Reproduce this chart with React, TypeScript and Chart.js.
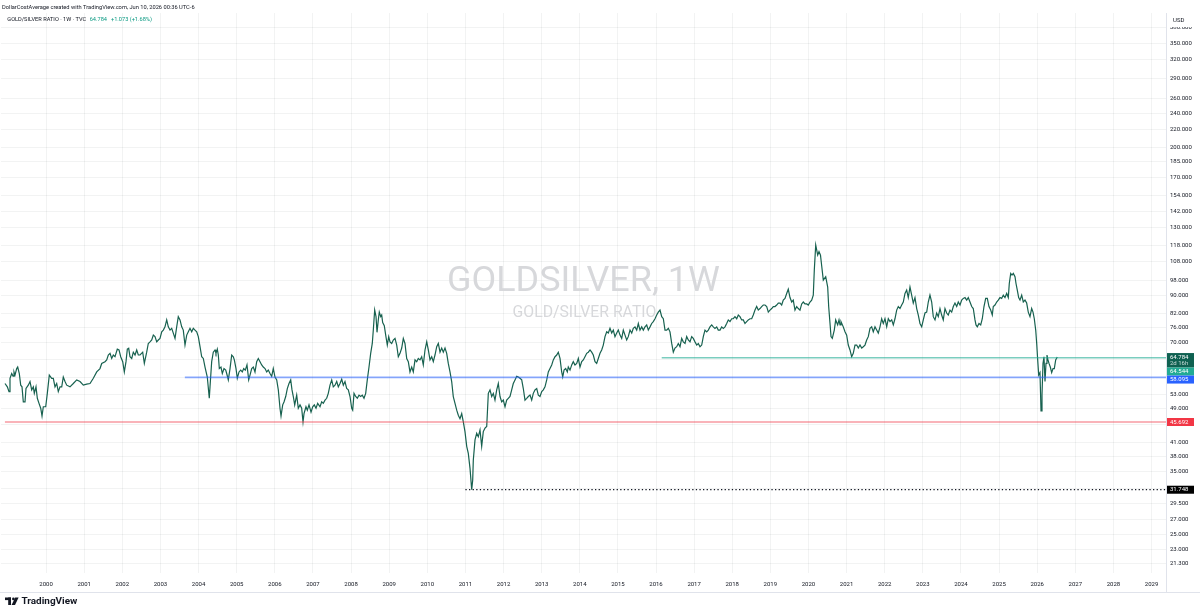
import React, { useEffect, useRef } from "react";
import { Chart, registerables } from "chart.js";

Chart.register(...registerables);

const DATES: number[] = [
  1998.922, 1998.983, 1999.027, 1999.053, 1999.098, 1999.132, 1999.158, 1999.184, 1999.229, 1999.255,
  1999.297, 1999.334, 1999.368, 1999.402, 1999.447, 1999.473, 1999.533, 1999.578, 1999.623, 1999.665,
  1999.691, 1999.735, 1999.770, 1999.814, 1999.859, 1999.893, 1999.927, 1999.990, 2000.032, 2000.084,
  2000.147, 2000.189, 2000.234, 2000.278, 2000.320, 2000.365, 2000.410, 2000.451, 2000.496, 2000.541,
  2000.627, 2000.714, 2000.803, 2000.890, 2000.976, 2001.065, 2001.152, 2001.239, 2001.328, 2001.414,
  2001.459, 2001.546, 2001.590, 2001.632, 2001.677, 2001.721, 2001.763, 2001.808, 2001.868, 2001.913,
  2001.957, 2002.010, 2002.052, 2002.096, 2002.131, 2002.167, 2002.201, 2002.246, 2002.288, 2002.333,
  2002.377, 2002.419, 2002.464, 2002.534, 2002.577, 2002.639, 2002.681, 2002.726, 2002.771, 2002.813,
  2002.857, 2002.902, 2002.944, 2002.988, 2003.033, 2003.075, 2003.119, 2003.164, 2003.206, 2003.251,
  2003.295, 2003.337, 2003.382, 2003.426, 2003.468, 2003.513, 2003.558, 2003.599, 2003.644, 2003.689,
  2003.731, 2003.775, 2003.820, 2003.862, 2003.906, 2003.951, 2003.993, 2004.038, 2004.082, 2004.124,
  2004.169, 2004.229, 2004.281, 2004.300, 2004.344, 2004.386, 2004.431, 2004.457, 2004.491, 2004.518,
  2004.544, 2004.588, 2004.623, 2004.667, 2004.712, 2004.738, 2004.780, 2004.825, 2004.869, 2004.911,
  2004.938, 2004.982, 2005.016, 2005.061, 2005.105, 2005.147, 2005.184, 2005.226, 2005.270, 2005.315,
  2005.349, 2005.394, 2005.436, 2005.480, 2005.525, 2005.567, 2005.612, 2005.656, 2005.698, 2005.743,
  2005.787, 2005.829, 2005.874, 2005.918, 2005.960, 2006.005, 2006.050, 2006.092, 2006.136, 2006.163,
  2006.207, 2006.241, 2006.286, 2006.328, 2006.372, 2006.417, 2006.451, 2006.485, 2006.522, 2006.574,
  2006.616, 2006.661, 2006.705, 2006.740, 2006.766, 2006.818, 2006.853, 2006.897, 2006.950, 2006.994,
  2007.036, 2007.081, 2007.125, 2007.186, 2007.230, 2007.272, 2007.317, 2007.361, 2007.403, 2007.448,
  2007.493, 2007.534, 2007.579, 2007.624, 2007.666, 2007.710, 2007.755, 2007.797, 2007.841, 2007.886,
  2007.928, 2007.973, 2008.017, 2008.043, 2008.078, 2008.122, 2008.164, 2008.209, 2008.253, 2008.295,
  2008.340, 2008.384, 2008.426, 2008.471, 2008.515, 2008.557, 2008.584, 2008.620, 2008.655, 2008.681,
  2008.715, 2008.741, 2008.778, 2008.804, 2008.830, 2008.872, 2008.909, 2008.951, 2008.988, 2009.022,
  2009.066, 2009.108, 2009.153, 2009.198, 2009.240, 2009.284, 2009.329, 2009.371, 2009.415, 2009.460,
  2009.502, 2009.546, 2009.591, 2009.633, 2009.678, 2009.722, 2009.764, 2009.809, 2009.853, 2009.895,
  2009.940, 2009.985, 2010.027, 2010.071, 2010.116, 2010.158, 2010.202, 2010.247, 2010.289, 2010.334,
  2010.378, 2010.420, 2010.465, 2010.509, 2010.551, 2010.596, 2010.640, 2010.682, 2010.727, 2010.772,
  2010.814, 2010.858, 2010.903, 2010.945, 2010.989, 2011.034, 2011.076, 2011.121, 2011.165, 2011.191,
  2011.207, 2011.252, 2011.296, 2011.338, 2011.383, 2011.427, 2011.469, 2011.514, 2011.559, 2011.601,
  2011.645, 2011.690, 2011.732, 2011.776, 2011.821, 2011.863, 2011.908, 2011.952, 2011.994, 2012.039,
  2012.083, 2012.125, 2012.170, 2012.214, 2012.256, 2012.301, 2012.346, 2012.388, 2012.432, 2012.477,
  2012.519, 2012.563, 2012.608, 2012.650, 2012.695, 2012.739, 2012.781, 2012.826, 2012.871, 2012.913,
  2012.957, 2013.002, 2013.044, 2013.088, 2013.133, 2013.175, 2013.219, 2013.264, 2013.306, 2013.351,
  2013.395, 2013.437, 2013.482, 2013.526, 2013.553, 2013.587, 2013.631, 2013.673, 2013.699, 2013.744,
  2013.789, 2013.830, 2013.875, 2013.920, 2013.962, 2014.006, 2014.051, 2014.093, 2014.137, 2014.182,
  2014.224, 2014.269, 2014.313, 2014.355, 2014.400, 2014.444, 2014.486, 2014.531, 2014.575, 2014.617,
  2014.662, 2014.707, 2014.749, 2014.793, 2014.838, 2014.880, 2014.924, 2014.969, 2015.011, 2015.056,
  2015.100, 2015.142, 2015.187, 2015.231, 2015.273, 2015.318, 2015.363, 2015.404, 2015.449, 2015.494,
  2015.536, 2015.580, 2015.625, 2015.667, 2015.711, 2015.756, 2015.798, 2015.843, 2015.887, 2015.929,
  2015.974, 2016.018, 2016.060, 2016.105, 2016.150, 2016.192, 2016.236, 2016.281, 2016.323, 2016.367,
  2016.412, 2016.454, 2016.498, 2016.543, 2016.585, 2016.630, 2016.674, 2016.716, 2016.761, 2016.805,
  2016.847, 2016.892, 2016.936, 2016.978, 2017.023, 2017.068, 2017.110, 2017.154, 2017.199, 2017.241,
  2017.285, 2017.330, 2017.372, 2017.416, 2017.461, 2017.503, 2017.547, 2017.592, 2017.634, 2017.679,
  2017.723, 2017.765, 2017.810, 2017.854, 2017.896, 2017.941, 2017.986, 2018.027, 2018.072, 2018.117,
  2018.159, 2018.203, 2018.248, 2018.290, 2018.334, 2018.379, 2018.421, 2018.466, 2018.510, 2018.552,
  2018.597, 2018.641, 2018.683, 2018.728, 2018.772, 2018.814, 2018.859, 2018.904, 2018.946, 2018.990,
  2019.035, 2019.077, 2019.121, 2019.166, 2019.208, 2019.253, 2019.297, 2019.339, 2019.384, 2019.428,
  2019.470, 2019.515, 2019.560, 2019.601, 2019.646, 2019.691, 2019.733, 2019.777, 2019.822, 2019.864,
  2019.908, 2019.953, 2019.995, 2020.040, 2020.084, 2020.126, 2020.153, 2020.190, 2020.242, 2020.276,
  2020.315, 2020.347, 2020.389, 2020.452, 2020.504, 2020.530, 2020.565, 2020.591, 2020.625, 2020.677,
  2020.714, 2020.766, 2020.801, 2020.827, 2020.853, 2020.913, 2020.958, 2021.002, 2021.044, 2021.089,
  2021.133, 2021.175, 2021.220, 2021.265, 2021.307, 2021.351, 2021.396, 2021.438, 2021.482, 2021.527,
  2021.569, 2021.614, 2021.658, 2021.700, 2021.745, 2021.789, 2021.831, 2021.876, 2021.920, 2021.962,
  2022.007, 2022.052, 2022.094, 2022.138, 2022.183, 2022.225, 2022.269, 2022.314, 2022.356, 2022.401,
  2022.445, 2022.487, 2022.532, 2022.576, 2022.618, 2022.663, 2022.707, 2022.749, 2022.794, 2022.839,
  2022.881, 2022.925, 2022.970, 2023.012, 2023.056, 2023.101, 2023.143, 2023.187, 2023.232, 2023.274,
  2023.319, 2023.363, 2023.405, 2023.450, 2023.494, 2023.536, 2023.581, 2023.625, 2023.667, 2023.712,
  2023.757, 2023.799, 2023.843, 2023.888, 2023.930, 2023.975, 2024.019, 2024.061, 2024.106, 2024.150,
  2024.192, 2024.237, 2024.282, 2024.323, 2024.368, 2024.395, 2024.429, 2024.473, 2024.518, 2024.560,
  2024.604, 2024.649, 2024.691, 2024.735, 2024.780, 2024.822, 2024.848, 2024.893, 2024.937, 2024.979,
  2025.024, 2025.068, 2025.110, 2025.155, 2025.200, 2025.242, 2025.268, 2025.305, 2025.339, 2025.373,
  2025.418, 2025.444, 2025.478, 2025.514, 2025.549, 2025.593, 2025.635, 2025.680, 2025.724, 2025.766,
  2025.811, 2025.855, 2025.890, 2025.924, 2025.961, 2025.987, 2026.013, 2026.039, 2026.073, 2026.100,
  2026.126, 2026.152, 2026.178, 2026.205, 2026.231, 2026.257, 2026.283, 2026.310, 2026.344, 2026.380,
  2026.415, 2026.449, 2026.485, 2026.527,
];

const RATIOS: number[] = [
  56.2, 55.2, 53.8, 57.8, 59.3, 58.5, 59.8, 58.8, 60.9, 61.4,
  59.3, 55.7, 55.2, 50.9, 50.9, 54.7, 55.7, 56.8, 54.3, 55.2,
  53.3, 55.2, 51.9, 50.5, 49.2, 47.2, 49.6, 49.6, 53.3, 58.8,
  57.8, 57.8, 55.2, 56.2, 53.8, 55.2, 55.2, 58.2, 56.8, 55.7,
  55.2, 56.2, 57.3, 56.8, 55.7, 56.0, 56.2, 57.8, 59.8, 60.9,
  62.6, 63.2, 63.8, 65.5, 66.1, 64.3, 65.5, 64.9, 67.6, 67.3,
  64.9, 63.2, 59.8, 63.2, 67.6, 67.9, 64.9, 64.3, 66.5, 65.5,
  67.3, 65.5, 65.5, 66.5, 62.6, 66.5, 69.7, 70.3, 71.0, 72.9,
  72.3, 70.3, 71.0, 71.6, 74.2, 74.9, 76.2, 79.1, 76.2, 74.9,
  75.6, 73.7, 71.6, 76.2, 80.5, 79.1, 76.2, 74.9, 69.1, 72.9,
  74.2, 75.6, 74.2, 75.6, 74.9, 74.2, 72.3, 68.5, 64.9, 64.3,
  61.4, 58.2, 51.9, 55.2, 63.2, 66.5, 67.3, 66.1, 67.6, 65.5,
  60.9, 61.4, 59.3, 60.9, 60.4, 59.3, 57.3, 60.9, 65.5, 64.9,
  63.8, 60.9, 57.8, 59.8, 60.4, 59.8, 60.9, 60.4, 62.1, 57.3,
  58.8, 60.9, 61.4, 59.8, 63.2, 64.3, 63.2, 62.1, 61.4, 60.9,
  59.8, 60.4, 59.3, 58.4, 60.9, 58.2, 57.3, 54.3, 49.2, 47.2,
  50.1, 50.9, 52.4, 54.7, 56.2, 57.3, 54.3, 52.4, 50.1, 52.8,
  49.2, 50.1, 49.2, 45.7, 47.8, 49.6, 48.7, 50.1, 48.2, 49.6,
  50.1, 49.2, 50.5, 49.6, 50.9, 50.5, 51.4, 51.9, 53.3, 55.7,
  57.3, 55.2, 55.7, 56.8, 55.2, 56.2, 57.5, 55.7, 56.8, 54.7,
  54.3, 52.4, 49.2, 48.7, 53.3, 52.4, 51.9, 52.8, 52.4, 52.8,
  51.9, 53.3, 57.3, 61.4, 66.1, 69.7, 74.9, 83.4, 80.5, 74.0,
  79.1, 82.5, 80.5, 81.2, 78.0, 76.7, 72.9, 69.1, 72.3, 70.3,
  69.7, 71.0, 71.6, 69.1, 64.9, 66.1, 68.0, 71.6, 69.7, 64.3,
  63.2, 59.8, 61.4, 59.8, 63.8, 63.2, 64.3, 63.8, 64.9, 62.1,
  67.3, 70.3, 67.3, 63.8, 64.9, 63.2, 65.5, 68.5, 69.7, 66.5,
  68.0, 66.5, 68.0, 66.1, 62.6, 59.8, 56.8, 52.4, 50.5, 48.7,
  47.4, 46.5, 47.8, 45.7, 43.4, 40.1, 38.6, 35.6, 31.75, 33.4,
  37.2, 41.5, 43.0, 42.2, 43.8, 40.1, 43.4, 44.2, 44.6, 53.3,
  54.3, 52.4, 53.3, 51.4, 54.3, 56.2, 52.4, 50.9, 51.4, 49.6,
  51.4, 51.9, 52.4, 54.3, 56.2, 57.3, 58.4, 58.2, 57.8, 57.3,
  54.7, 51.4, 51.9, 52.4, 52.8, 51.4, 53.3, 54.3, 54.7, 52.8,
  52.4, 53.8, 54.3, 55.2, 57.3, 59.8, 60.9, 62.1, 63.8, 64.9,
  65.5, 66.5, 64.3, 59.8, 58.2, 60.4, 60.9, 59.8, 61.4, 60.4,
  62.1, 63.2, 62.1, 62.6, 64.3, 61.4, 63.2, 63.8, 64.9, 66.1,
  66.5, 67.3, 66.5, 65.5, 63.2, 62.6, 64.3, 66.1, 67.3, 69.1,
  72.3, 74.2, 73.7, 75.6, 73.7, 74.9, 72.3, 73.7, 74.9, 72.9,
  71.6, 74.9, 72.9, 71.0, 72.3, 74.9, 73.7, 75.6, 76.2, 74.9,
  77.6, 74.9, 76.2, 74.9, 76.2, 77.0, 74.9, 76.2, 77.6, 78.4,
  79.6, 81.2, 82.5, 83.4, 80.5, 79.6, 74.9, 74.9, 75.6, 74.2,
  69.7, 66.5, 68.0, 68.5, 69.7, 68.5, 71.6, 70.3, 69.7, 72.3,
  71.0, 70.3, 72.3, 71.6, 70.3, 69.1, 69.7, 68.5, 69.1, 72.3,
  74.9, 74.2, 74.9, 76.2, 77.0, 76.2, 75.6, 76.2, 74.9, 74.9,
  76.2, 75.6, 76.2, 77.6, 79.1, 78.4, 79.6, 79.6, 80.5, 79.6,
  81.2, 80.5, 79.1, 79.1, 77.6, 78.4, 79.1, 79.6, 79.6, 81.2,
  83.4, 85.0, 83.4, 84.1, 85.0, 85.7, 85.7, 85.0, 82.5, 83.4,
  84.1, 85.0, 85.0, 85.7, 86.6, 86.6, 85.7, 88.0, 88.8, 91.2,
  93.3, 89.2, 87.1, 88.0, 83.4, 85.0, 84.1, 83.4, 86.2, 87.1,
  86.2, 86.2, 85.7, 87.1, 88.0, 90.4, 103.4, 118.3, 112.1, 114.2,
  112.0, 105.7, 98.0, 99.8, 94.4, 85.0, 77.6, 72.3, 71.6, 74.9,
  79.1, 77.0, 79.1, 77.0, 78.4, 76.2, 74.2, 72.9, 69.1, 67.3,
  64.9, 66.1, 69.1, 69.1, 68.0, 69.1, 68.0, 68.5, 69.1, 71.0,
  72.3, 75.6, 76.2, 74.2, 76.2, 74.9, 73.7, 76.2, 79.6, 77.6,
  79.6, 76.2, 79.6, 78.4, 79.1, 77.0, 79.6, 83.4, 85.0, 84.1,
  85.7, 87.1, 91.2, 92.9, 89.2, 94.4, 90.4, 86.6, 89.2, 84.1,
  81.2, 77.6, 76.2, 79.1, 82.1, 82.5, 87.1, 90.4, 87.1, 80.5,
  79.1, 82.1, 80.5, 84.1, 81.2, 79.1, 84.1, 82.1, 81.2, 83.4,
  82.5, 85.0, 86.6, 85.0, 87.1, 85.7, 88.0, 88.8, 89.2, 88.0,
  89.2, 87.1, 85.0, 84.1, 79.1, 77.0, 76.2, 77.6, 77.0, 79.6,
  85.0, 88.8, 88.8, 85.0, 83.4, 81.2, 85.0, 85.7, 87.1, 88.0,
  89.2, 88.8, 90.4, 89.2, 91.2, 89.2, 96.2, 101.6, 100.7, 101.6,
  99.8, 96.2, 92.9, 89.2, 88.0, 90.4, 87.1, 88.0, 86.6, 82.5,
  80.5, 84.1, 82.5, 79.6, 74.9, 69.7, 63.8, 58.8, 59.6, 48.5,
  52.8, 62.6, 64.9, 56.8, 62.6, 65.5, 63.8, 62.6, 61.4, 59.6,
  60.9, 60.9, 63.8, 64.784,
];

const YEAR_TICKS = [
  2000, 2001, 2002, 2003, 2004, 2005, 2006, 2007, 2008, 2009,
  2010, 2011, 2012, 2013, 2014, 2015, 2016, 2017, 2018, 2019,
  2020, 2021, 2022, 2023, 2024, 2025, 2026, 2027, 2028, 2029,
];
const PRICE_TICKS = [
  21.3, 23, 25, 27, 29.5, 32, 35, 38, 41, 45, 49, 53, 58, 64, 70, 76, 82, 90, 98,
  108, 118, 130, 142, 154, 170, 185, 200, 220, 240, 260, 290, 320, 350, 380,
];

const LAST_PRICE = 64.784;
const LAST_CHANGE = "+1.073 (+1.68%)";
const COUNTDOWN = "2d 16h";
const LEVEL_VALUES = [64.544, 58.095, 45.692, 31.748];
const LEVEL_STARTS = [2016.15, 2003.64, 1998.92, 2011.0];
const X_RANGE = [1998.817, 2029.379];
const Y_RANGE = [20.29, 411.9];

const HEADER_TEXT = "DollarCostAverage created with TradingView.com, Jun 10, 2026 00:36 UTC-6";
const SYMBOL_TEXT = "GOLD/SILVER RATIO \u00b7 1W \u00b7 TVC";
const WATERMARK_TITLE = "GOLDSILVER, 1W";
const WATERMARK_SUB = "GOLD/SILVER RATIO";
const CURRENCY = "USD";
const BRAND = "TradingView";

// ---- styles ----
const FONT = "Roboto, 'Noto Sans', sans-serif";
const TEXT = "#131722";
const GREEN = "#089981";
const LINE_COLOR = "#17614f";
const LAST_BG = "#0f6151";
const GRID = "rgba(42,46,57,0.06)";
const BORDER = "#e0e3eb";
const WATERMARK_COLOR = "#d7d8db";
const LEVEL_LINE_COLORS = ["rgba(34,171,148,0.6)", "rgba(41,98,255,0.55)", "rgba(242,54,69,0.5)", "#131722"];
const LEVEL_BOX_COLORS = ["#22ab94", "#2962ff", "#f23645", "#000000"];

function fitFont(ctx: CanvasRenderingContext2D, text: string, width: number, weight: string) {
  ctx.font = `${weight} 20px ${FONT}`;
  const w = ctx.measureText(text).width;
  const size = (20 * width) / w;
  ctx.font = `${weight} ${size}px ${FONT}`;
  return size;
}

const overlayPlugin = {
  id: "tvOverlay",
  beforeDatasetsDraw(chart: any) {
    const { ctx, chartArea: a } = chart;
    ctx.save();
    ctx.fillStyle = WATERMARK_COLOR;
    ctx.textAlign = "center";
    ctx.textBaseline = "middle";
    const cx = (a.left + a.right) / 2;
    const cy = (a.top + a.bottom) / 2;
    fitFont(ctx, WATERMARK_TITLE, 273, "400");
    ctx.fillText(WATERMARK_TITLE, cx, cy - 11);
    fitFont(ctx, WATERMARK_SUB, 144, "400");
    ctx.fillText(WATERMARK_SUB, cx + 1, cy + 20);
    ctx.restore();
  },
  afterDraw(chart: any) {
    const { ctx, chartArea: a, scales } = chart;
    const ys = scales.y;
    ctx.save();

    // separators
    ctx.strokeStyle = BORDER;
    ctx.lineWidth = 1;
    ctx.beginPath();
    ctx.moveTo(a.right + 0.5, a.top);
    ctx.lineTo(a.right + 0.5, a.bottom + 19);
    ctx.stroke();
    ctx.beginPath();
    ctx.moveTo(0, a.bottom + 19.5);
    ctx.lineTo(1200, a.bottom + 19.5);
    ctx.stroke();

    // currency label
    ctx.fillStyle = "#ffffff";
    ctx.fillRect(a.right + 1, 0, 1200 - a.right - 1, 27);
    ctx.fillStyle = TEXT;
    ctx.textAlign = "left";
    ctx.textBaseline = "middle";
    ctx.font = `6px ${FONT}`;
    ctx.fillText(CURRENCY, a.right + 7, 20);

    // header + legend
    fitFont(ctx, HEADER_TEXT, 193, "400");
    ctx.fillText(HEADER_TEXT, 2, 7.3);
    fitFont(ctx, SYMBOL_TEXT, 79, "400");
    ctx.fillText(SYMBOL_TEXT, 7.3, 19.3);
    let x = 7.3 + ctx.measureText(SYMBOL_TEXT).width + 3.5;
    ctx.fillStyle = GREEN;
    const p = LAST_PRICE.toFixed(3);
    ctx.fillText(p, x, 19.3);
    x += ctx.measureText(p).width + 4;
    ctx.fillText(LAST_CHANGE, x, 19.3);

    // price labels on the axis
    const labels = [
      { v: LAST_PRICE, bg: LAST_BG, rows: [LAST_PRICE.toFixed(3), COUNTDOWN] },
      ...LEVEL_VALUES.map((v, i) => ({ v, bg: LEVEL_BOX_COLORS[i], rows: [v.toFixed(3)] })),
    ].map((l) => ({ ...l, y: ys.getPixelForValue(l.v) }));
    labels.sort((p1, p2) => p1.y - p2.y);
    const rowH = 6.5;
    let prevBottom = -Infinity;
    ctx.font = `6px ${FONT}`;
    for (const l of labels) {
      const h = l.rows.length * rowH + 1.5;
      let top = l.y - rowH / 2 - 0.75;
      if (top < prevBottom) top = prevBottom;
      prevBottom = top + h;
      ctx.fillStyle = l.bg;
      ctx.fillRect(a.right + 1, top, 27, h);
      l.rows.forEach((r, k) => {
        ctx.fillStyle = k === 0 ? "#ffffff" : "rgba(255,255,255,0.75)";
        ctx.fillText(r, a.right + 4, top + 0.75 + rowH * (k + 0.5));
      });
    }

    // footer brand
    ctx.fillStyle = TEXT;
    ctx.fillRect(5, 597.5, 6, 2.6);
    ctx.fillRect(8.2, 597.5, 2.8, 7.5);
    ctx.beginPath();
    ctx.arc(13.4, 598.9, 1.35, 0, Math.PI * 2);
    ctx.fill();
    ctx.beginPath();
    ctx.moveTo(15.2, 597.5);
    ctx.lineTo(18.6, 597.5);
    ctx.lineTo(15.0, 605);
    ctx.lineTo(11.6, 605);
    ctx.closePath();
    ctx.fill();
    fitFont(ctx, BRAND, 56, "700");
    ctx.fillText(BRAND, 21.5, 601.3);

    ctx.restore();
  },
};

export default function App() {
  const ref = useRef<HTMLCanvasElement>(null);

  useEffect(() => {
    const canvas = ref.current;
    if (!canvas) return;
    const labelValues = [LAST_PRICE, ...LEVEL_VALUES];
    const chart = new Chart(canvas, {
      type: "line",
      data: {
        datasets: [
          ...LEVEL_VALUES.map((v, i) => ({
            data: [
              { x: LEVEL_STARTS[i], y: v },
              { x: X_RANGE[1], y: v },
            ],
            borderColor: LEVEL_LINE_COLORS[i],
            borderWidth: i === 3 ? 1.3 : 1.7,
            borderDash: i === 3 ? [1.3, 2.3] : [],
            pointRadius: 0,
            order: 0,
          })),
          {
            data: DATES.map((d, i) => ({ x: d, y: RATIOS[i] })),
            borderColor: LINE_COLOR,
            borderWidth: 1.2,
            pointRadius: 0,
            tension: 0,
            order: 1,
          },
        ],
      },
      options: {
        animation: false,
        responsive: false,
        events: [],
        layout: { padding: { top: 13, left: 1, right: 0, bottom: 21 } },
        plugins: { legend: { display: false }, tooltip: { enabled: false } },
        scales: {
          x: {
            type: "linear",
            min: X_RANGE[0],
            max: X_RANGE[1],
            position: "bottom",
            afterBuildTicks: (s: any) => {
              s.ticks = YEAR_TICKS.map((v) => ({ value: v }));
            },
            afterFit: (s: any) => {
              s.height = 20;
            },
            grid: { color: GRID, drawTicks: false },
            border: { display: false },
            ticks: {
              autoSkip: false,
              maxRotation: 0,
              padding: 8,
              color: TEXT,
              font: { size: 6, family: FONT },
              callback: (v: any) => String(v),
            },
          },
          y: {
            type: "logarithmic",
            position: "right",
            min: Y_RANGE[0],
            max: Y_RANGE[1],
            afterBuildTicks: (s: any) => {
              s.ticks = PRICE_TICKS.map((v) => ({ value: v }));
            },
            afterFit: (s: any) => {
              s.width = 34;
            },
            grid: { color: GRID, drawTicks: false },
            border: { display: false },
            ticks: {
              autoSkip: false,
              padding: 4,
              color: TEXT,
              font: { size: 6, family: FONT },
              callback: (value: any) => {
                const v = Number(value);
                const near = labelValues.some((L) => Math.abs(Math.log(v / L)) < 0.045);
                return near ? "" : v.toFixed(3);
              },
            },
          },
        },
      },
      plugins: [overlayPlugin],
    } as any);
    return () => chart.destroy();
  }, []);

  return (
    <div style={{ position: "fixed", left: 0, top: 0, width: 1200, height: 614, background: "#ffffff" }}>
      <canvas ref={ref} width={1200} height={614} style={{ display: "block", width: 1200, height: 614 }} />
    </div>
  );
}
